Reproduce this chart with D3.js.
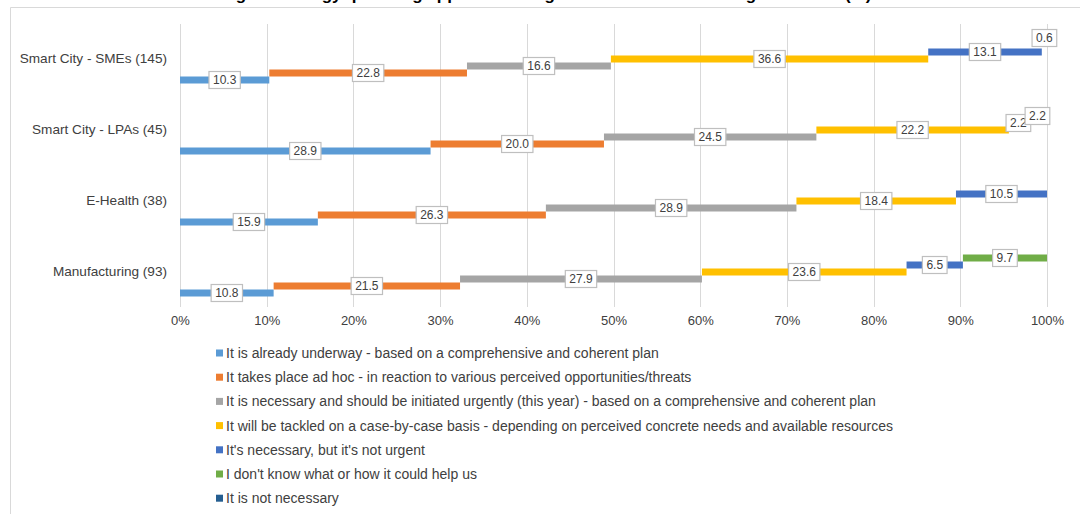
<!DOCTYPE html>
<html>
<head>
<meta charset="utf-8">
<script src="https://cdn.jsdelivr.net/npm/d3@7"></script>
<style>
  html, body { margin: 0; padding: 0; background: #fff; }
  svg { display: block; font-family: "Liberation Sans", Arial, sans-serif; }
</style>
</head>
<body>
<svg id="chart" width="1080" height="514"></svg>
<script>
const titleText = "Digital strategy: planning approach to digital transformation in organisations (%)";
const categories = ["Smart City - SMEs (145)", "Smart City - LPAs (45)", "E-Health (38)", "Manufacturing (93)"];
const seriesNames = [
  "It is already underway - based on a comprehensive and coherent plan",
  "It takes place ad hoc - in reaction to various perceived opportunities/threats",
  "It is necessary and should be initiated urgently (this year) - based on a comprehensive and coherent plan",
  "It will be tackled on a case-by-case basis - depending on perceived concrete needs and available resources",
  "It's necessary, but it's not urgent",
  "I don't know what or how it could help us",
  "It is not necessary"
];
const seriesColors = ["#5B9BD5", "#ED7D31", "#A5A5A5", "#FFC000", "#4472C4", "#70AD47", "#255E91"];
// values per category, in series order
const smeValues = [10.3, 22.8, 16.6, 36.6, 13.1, 0, 0.6];
const lpaValues = [28.9, 20.0, 24.5, 22.2, 2.2, 2.2, 0];
const eHealthValues = [15.9, 26.3, 28.9, 18.4, 10.5, 0, 0];
const manufacturingValues = [10.8, 21.5, 27.9, 23.6, 6.5, 9.7, 0];
const valuesByCategory = [smeValues, lpaValues, eHealthValues, manufacturingValues];
const xTicks = [0, 10, 20, 30, 40, 50, 60, 70, 80, 90, 100];

const svg = d3.select("#chart");
const textColor = "#404040";

// outer frame (top and left edges visible)
svg.append("line").attr("x1", 10.5).attr("x2", 1080).attr("y1", 7.5).attr("y2", 7.5)
  .attr("stroke", "#D9D9D9").attr("stroke-width", 1);
svg.append("line").attr("x1", 10.5).attr("x2", 10.5).attr("y1", 7.5).attr("y2", 514)
  .attr("stroke", "#D9D9D9").attr("stroke-width", 1);

// title (mostly clipped off the top, as in the reference)
svg.append("text").attr("x", 545).attr("y", -0.5).attr("text-anchor", "middle")
  .attr("font-size", 17).attr("font-weight", "bold").attr("fill", "#000")
  .text(titleText);

const x = d3.scaleLinear().domain([0, 100]).range([180, 1047]);
const y = d3.scaleBand().domain(categories).range([23.5, 307.5]).padding(0);
const sub = d3.scaleBand().domain(d3.range(seriesNames.length).reverse())
  .range([11, 60]);

// gridlines
svg.append("g").selectAll("line").data(xTicks).join("line")
  .attr("x1", d => Math.round(x(d)) + 0.5).attr("x2", d => Math.round(x(d)) + 0.5)
  .attr("y1", 24).attr("y2", 307)
  .attr("stroke", "#D9D9D9").attr("stroke-width", 1);

// x axis labels
const xAxis = d3.axisBottom(x).tickValues(xTicks).tickFormat(d => d + "%").tickSize(0).tickPadding(9);
const ax = svg.append("g").attr("transform", "translate(0,307)").call(xAxis);
ax.select(".domain").remove();
ax.selectAll("text").attr("font-size", 13).attr("fill", textColor)
  .attr("font-family", "Liberation Sans, Arial, sans-serif");

// category labels
const yAxis = d3.axisLeft(y).tickSize(0).tickPadding(13);
const ay = svg.append("g").attr("transform", "translate(180,0)").call(yAxis);
ay.select(".domain").remove();
ay.selectAll("text").attr("font-size", 13.6).attr("fill", textColor)
  .attr("font-family", "Liberation Sans, Arial, sans-serif")
  .attr("dy", "0.32em")
  .attr("transform", "translate(0,-0.5)");

// build segments
const segments = [];
categories.forEach((c, ci) => {
  let cum = 0;
  valuesByCategory[ci].forEach((v, si) => {
    segments.push({ cat: c, s: si, start: cum, end: cum + v, v: v });
    cum += v;
  });
});

const bars = svg.append("g");
bars.selectAll("rect").data(segments.filter(d => d.v > 0)).join("rect")
  .attr("x", d => x(d.start))
  .attr("width", d => x(d.end) - x(d.start))
  .attr("y", d => y(d.cat) + sub(d.s))
  .attr("height", sub.bandwidth())
  .attr("fill", d => seriesColors[d.s]);

// data labels
const labels = svg.append("g");
const lab = labels.selectAll("g").data(segments.filter(d => d.v > 0)).join("g")
  .attr("transform", d => {
    const cx = x((d.start + d.end) / 2);
    const cy = y(d.cat) + sub(d.s) + sub.bandwidth() / 2;
    return `translate(${cx},${cy})`;
  });
lab.append("rect").attr("class", "box");
lab.append("text").attr("text-anchor", "middle").attr("dy", "0.35em")
  .attr("font-size", 12).attr("fill", textColor)
  .text(d => d.v.toFixed(1));
lab.each(function () {
  const g = d3.select(this);
  const w = g.select("text").node().getComputedTextLength() + 8;
  g.select("rect").attr("x", -w / 2).attr("y", -8.5).attr("width", w).attr("height", 17)
    .attr("fill", "#fff").attr("stroke", "#BFBFBF").attr("stroke-width", 1.2);
});

// legend
const legend = svg.append("g");
const li = legend.selectAll("g").data(seriesNames).join("g")
  .attr("transform", (d, i) => `translate(216,${353 + i * 24.2})`);
li.append("rect").attr("x", 0).attr("y", -3.5).attr("width", 7).attr("height", 7)
  .attr("fill", (d, i) => seriesColors[i]);
li.append("text").attr("x", 10).attr("dy", "0.35em").attr("font-size", 14)
  .attr("fill", textColor).text(d => d);
</script>
</body>
</html>
